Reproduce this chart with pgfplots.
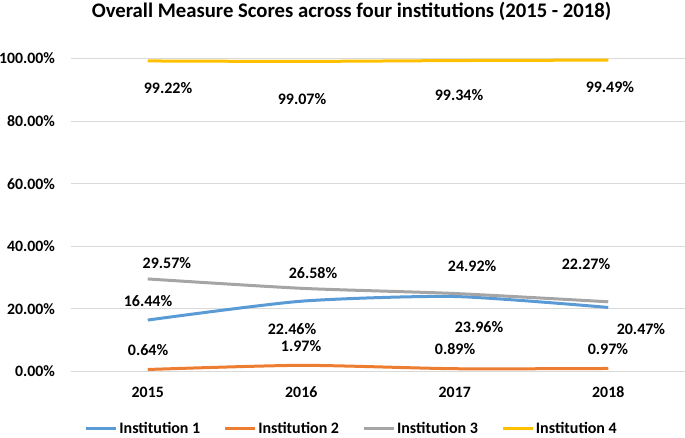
\documentclass[border=0pt]{standalone}
\usepackage{pgfplots}
\pgfplotsset{compat=1.18}
\usepackage{fontspec}
\setmainfont{Carlito}
\definecolor{c1}{HTML}{5B9BD5}
\definecolor{c2}{HTML}{ED7D31}
\definecolor{c3}{HTML}{A5A5A5}
\definecolor{c4}{HTML}{FFC000}
\definecolor{gridc}{HTML}{D9D9D9}
\newcommand{\lbl}{\bfseries\fontsize{16}{19}\selectfont}
\begin{document}
\begin{tikzpicture}
\path[use as bounding box] (-71pt,-65.5pt) rectangle (614pt,371.5pt);
\begin{axis}[
  at={(0,0)}, anchor=south west,
  scale only axis, width=614pt, height=313pt,
  xmin=-0.5, xmax=3.5, ymin=0, ymax=100,
  xtick={0,1,2,3}, xticklabels={2015,2016,2017,2018},
  ytick={0,20,40,60,80,100},
  yticklabels={0.00\%,20.00\%,40.00\%,60.00\%,80.00\%,100.00\%},
  ymajorgrids, major grid style={draw=gridc, line width=1pt},
  axis line style={draw=none}, major tick length=0pt,
  ticklabel style={font=\bfseries\fontsize{15.8}{18}\selectfont, text=black},
  yticklabel style={anchor=east, inner sep=0pt, xshift=-16pt},
  xticklabel style={anchor=center, inner sep=0pt, yshift=-21pt},
  clip=false,
  legend columns=4,
  legend style={at={(rel axis cs:0.457,-0.1835)}, anchor=center, draw=none, fill=none,
    font=\bfseries\fontsize{16}{19}\selectfont,
    /tikz/every even column/.append style={column sep=22pt},
    nodes={inner sep=1.5pt}},
  legend image code/.code={\draw[#1, line width=3pt] (0pt,0pt) -- (30pt,0pt);},
  every axis plot/.append style={line width=3pt, smooth, tension=0.4, no markers},
]
\addplot[c1] coordinates {(0,16.44) (1,22.46) (2,23.96) (3,20.47)};
\addlegendentry{Institution 1}
\addplot[c2] coordinates {(0,0.64) (1,1.97) (2,0.89) (3,0.97)};
\addlegendentry{Institution 2}
\addplot[c3] coordinates {(0,29.57) (1,26.58) (2,24.92) (3,22.27)};
\addlegendentry{Institution 3}
\addplot[c4] coordinates {(0,99.22) (1,99.07) (2,99.34) (3,99.49)};
\addlegendentry{Institution 4}

\node[font=\lbl] at (axis cs:0.132,90.6) {99.22\%};
\node[font=\lbl] at (axis cs:1.005,87.1) {99.07\%};
\node[font=\lbl] at (axis cs:2.028,88.3) {99.34\%};
\node[font=\lbl] at (axis cs:3.011,90.9) {99.49\%};

\node[font=\lbl] at (axis cs:0.125,34.5) {29.57\%};
\node[font=\lbl] at (axis cs:1.077,31.5) {26.58\%};
\node[font=\lbl] at (axis cs:2.113,33.7) {24.92\%};
\node[font=\lbl] at (axis cs:2.855,34.3) {22.27\%};

\node[font=\lbl] at (axis cs:0.002,22.5) {16.44\%};
\node[font=\lbl] at (axis cs:0.94,13.6) {22.46\%};
\node[font=\lbl] at (axis cs:2.158,14.2) {23.96\%};
\node[font=\lbl] at (axis cs:3.213,13.6) {20.47\%};

\node[font=\lbl] at (axis cs:0.002,6.9) {0.64\%};
\node[font=\lbl] at (axis cs:0.999,8.1) {1.97\%};
\node[font=\lbl] at (axis cs:2.002,7.2) {0.89\%};
\node[font=\lbl] at (axis cs:2.998,7.2) {0.97\%};

\node[anchor=base, font=\bfseries\fontsize{20.7}{24}\selectfont] at (rel axis cs:0.457,1) [yshift=41.2pt] {Overall Measure Scores across four institutions (2015 - 2018)};
\end{axis}
\end{tikzpicture}
\end{document}
